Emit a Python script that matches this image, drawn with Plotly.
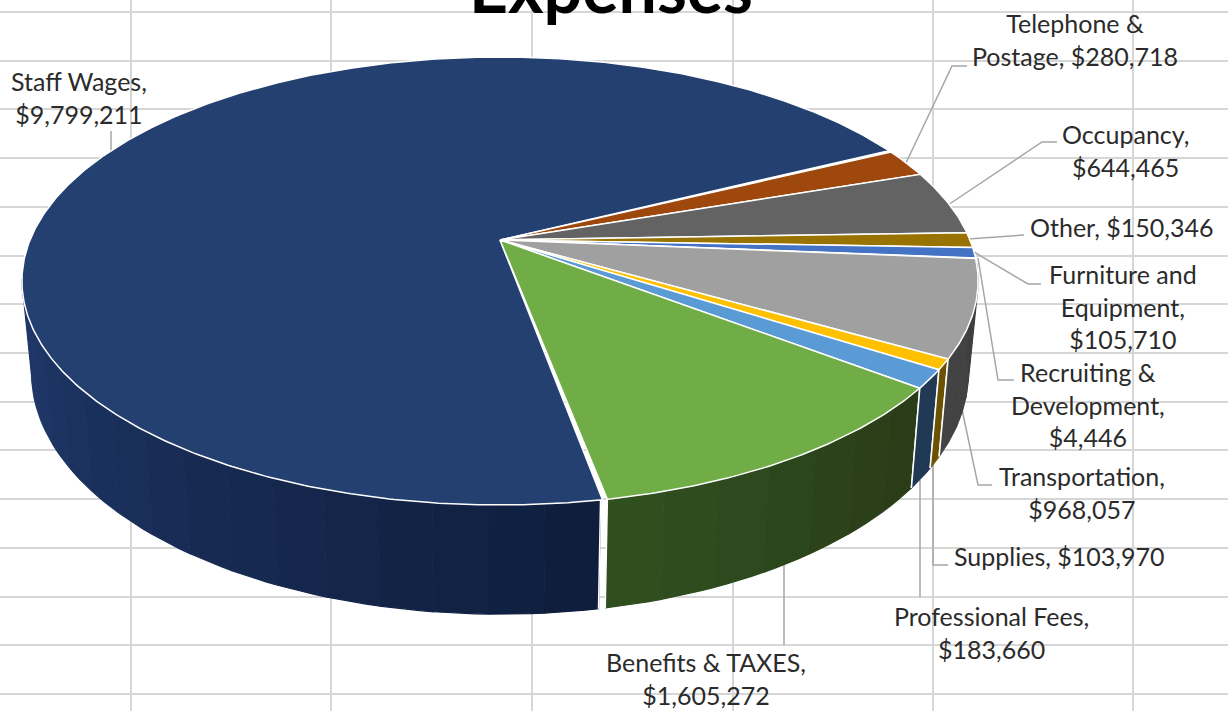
import math
import plotly.graph_objects as go

# ---- data ----
categories = ["Benefits & TAXES", "Professional Fees", "Supplies", "Transportation",
              "Recruiting & Development", "Furniture and Equipment", "Other",
              "Occupancy", "Telephone & Postage", "Staff Wages"]
values = [1605272, 183660, 103970, 968057, 4446, 105710, 150346, 644465, 280718, 9799211]
label_breaks = ["Benefits & TAXES,<br>{v}", "Professional Fees,<br>{v}", "Supplies, {v}",
                "Transportation,<br>{v}", "Recruiting &<br>Development,<br>{v}",
                "Furniture and<br>Equipment,<br>{v}", "Other, {v}", "Occupancy,<br>{v}",
                "Telephone &<br>Postage, {v}", "Staff Wages,<br>{v}"]
top_colors = ["#70ad47", "#5b9bd5", "#ffc000", "#a0a0a0", "#255e91", "#4472c4",
              "#997300", "#636363", "#9e480e", "#234071"]
wall_from = ["#2f4f1f", "#203a56", "#6b5200", "#434343", "#255e91", "#264478",
             "#636363", "#3b3b3b", "#5e2b08", "#20396b"]
wall_to = ["#2a3d18", "#203a56", "#6b5200", "#3f3f3f", "#255e91", "#264478",
           "#636363", "#3b3b3b", "#5e2b08", "#0f1e3d"]
title_text = "Expenses"

# ---- layout constants of the picture ----
W, H = 1228, 711
grid_x = [131, 331, 532, 733, 933, 1133]
grid_y = [12, 61, 109, 158, 207, 256, 304, 353, 402, 450, 499, 548, 597, 645, 694]
CX, CY = 500, 240
A, B, K = 470, 216.5, 0.183
FX, FY, DY = 0.98, 1.08, 88
START = -79.2


def project(deg):
    c, s = math.cos(math.radians(deg)), math.sin(math.radians(deg))
    d = 1 + K * s
    return A * c / d, B * s / d


def top(deg):
    x, y = project(deg)
    return CX + x, CY - y


def bottom(deg):
    x, y = project(deg)
    return CX + FX * x, CY - FY * y + DY


def mix(c1, c2, t):
    a = [int(c1[i:i + 2], 16) for i in (1, 3, 5)]
    b = [int(c2[i:i + 2], 16) for i in (1, 3, 5)]
    return "#%02x%02x%02x" % tuple(round(p + (q - p) * t) for p, q in zip(a, b))


total = sum(values)
spans = []
ang = START
for v in values:
    spans.append((ang, ang + v / total * 360))
    ang += v / total * 360

fig = go.Figure()


def poly(xs, ys, fill, line=None, width=0):
    fig.add_trace(go.Scatter(x=xs, y=ys, mode="lines", fill="toself", fillcolor=fill,
                             line=dict(color=line or fill, width=width if line else 1.2),
                             hoverinfo="skip", showlegend=False))


# leader lines (behind the pie)
leaders = [
    ([784, 784], [560, 645]),
    ([920, 920], [480, 597]),
    ([933, 933, 948], [460, 565, 565]),
    ([960, 978, 992], [400, 485, 485]),
    ([978, 998, 1014], [258, 380, 380]),
    ([974, 1028, 1041], [252, 284, 284]),
    ([968, 1024], [239, 235]),
    ([948, 1042, 1057], [205, 142, 142]),
    ([905, 952, 967], [165, 66, 66]),
    ([111, 111], [131, 155]),
]
for xs, ys in leaders:
    fig.add_trace(go.Scatter(x=xs, y=ys, mode="lines", line=dict(color="#a6a6a6", width=1.5),
                             hoverinfo="skip", showlegend=False))

# side walls
WALL_L, WALL_R = 190, 354
for i, (a0, a1) in enumerate(spans):
    is_staff = categories[i] == "Staff Wages"
    if is_staff:
        lo2, hi2 = WALL_L, START + 360 - 0.7
    else:
        lo2, hi2 = a0, min(a1, WALL_R - 360)
    if hi2 <= lo2:
        continue
    n = 16 if is_staff else (7 if hi2 - lo2 > 20 else 1)
    for j in range(n):
        t0 = lo2 + (hi2 - lo2) * j / n
        t1 = lo2 + (hi2 - lo2) * (j + 1) / n
        angs = [t0 + (t1 - t0) * q / 4 for q in range(5)]
        xs = [top(q)[0] for q in angs] + [bottom(q)[0] for q in reversed(angs)]
        ys = [top(q)[1] for q in angs] + [bottom(q)[1] for q in reversed(angs)]
        poly(xs, ys, mix(wall_from[i], wall_to[i], j / max(n - 1, 1)))
    for q in (lo2, hi2):
        if q in (WALL_L, WALL_R - 360):
            continue
        fig.add_trace(go.Scatter(x=[top(q)[0], bottom(q)[0]], y=[top(q)[1], bottom(q)[1]],
                                 mode="lines", line=dict(color="white", width=1.5),
                                 hoverinfo="skip", showlegend=False))

# top faces
for i in range(len(values) - 1, -1, -1):
    a0, a1 = spans[i]
    gap = 0.5 if categories[i] == "Staff Wages" else 0
    n = max(int((a1 - a0) * 2), 2)
    angs = [a0 + gap + (a1 - a0 - 2 * gap) * q / n for q in range(n + 1)]
    xs = [CX] + [top(q)[0] for q in angs] + [CX]
    ys = [CY] + [top(q)[1] for q in angs] + [CY]
    poly(xs, ys, top_colors[i], "white", 1.5)

# labels
label_pos = [(706, 678), (991, 632), (1059, 556), (1082, 492), (1088, 404),
             (1123, 306), (1121, 227), (1125, 150), (1075, 39), (79, 97)]
annos = []
for i, (x, y) in enumerate(label_pos):
    annos.append(dict(x=x, y=y, xref="x", yref="y", showarrow=False, xanchor="center",
                      yanchor="middle", align="center",
                      text=label_breaks[i].format(v="$" + format(values[i], ",")),
                      font=dict(family="Lato", size=25, color="#2b2b2b")))
annos.append(dict(x=611, y=29, xref="x", yref="y", showarrow=False, xanchor="center",
                  yanchor="bottom", text=title_text,
                  font=dict(family="Lato", size=68, color="#000000", weight="bold")))

fig.update_layout(
    width=W, height=H, margin=dict(l=0, r=0, t=0, b=0),
    paper_bgcolor="white", plot_bgcolor="white", showlegend=False, annotations=annos,
    xaxis=dict(range=[0, W], tickmode="array", tickvals=grid_x, showticklabels=False,
               showgrid=True, gridcolor="#d6d6d6", gridwidth=2, zeroline=False, ticks=""),
    yaxis=dict(range=[H, 0], tickmode="array", tickvals=grid_y, showticklabels=False,
               showgrid=True, gridcolor="#d6d6d6", gridwidth=2, zeroline=False, ticks=""),
)
fig.write_html("out.html", config=dict(displayModeBar=False),
               post_script="document.body.style.margin='0';document.documentElement.style.overflow='hidden';")
